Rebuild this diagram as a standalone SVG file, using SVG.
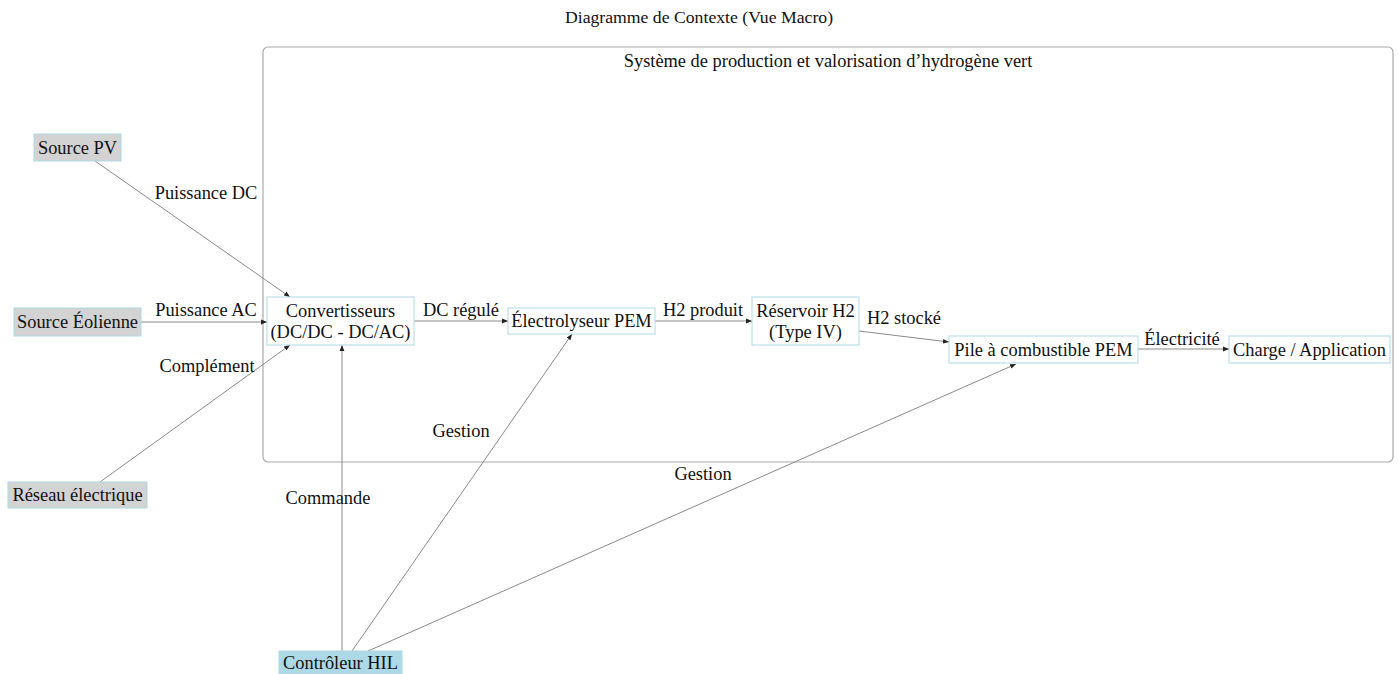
<svg xmlns="http://www.w3.org/2000/svg" width="1398" height="674" viewBox="0 0 1398 674">
<style>
text{font-family:"Liberation Serif","Times New Roman",serif;font-size:18.4px;fill:#111;text-anchor:middle;dominant-baseline:central}
.ext{fill:#d3d3d3;stroke:#add8e6;stroke-width:1}
.int{fill:#fff;stroke:#add8e6;stroke-width:1}
.hil{fill:#add8e6;stroke:#add8e6;stroke-width:1}
.e{stroke:#8a8a8a;stroke-width:1;fill:none;marker-end:url(#ah)}
</style>
<defs>
<marker id="ah" viewBox="0 0 10 10" refX="10" refY="5" markerWidth="6" markerHeight="6" orient="auto" markerUnits="userSpaceOnUse">
<path d="M0,1 L10,5 L0,9 z" fill="#222"/>
</marker>
</defs>
<rect width="1398" height="674" fill="#fff"/>
<text x="699" y="17" style="font-size:17.7px">Diagramme de Contexte (Vue Macro)</text>
<g id="cluster">
<rect x="263" y="47" width="1130" height="415" rx="5" fill="none" stroke="#aaa" stroke-width="1.2"/>
<text x="828" y="61">Système de production et valorisation d’hydrogène vert</text>
</g>
<g id="connectors">
<line class="e" x1="95" y1="161" x2="290" y2="297"/>
<text x="206" y="193">Puissance DC</text>
<line class="e" x1="141" y1="322" x2="267" y2="322"/>
<text x="206" y="310">Puissance AC</text>
<line class="e" x1="100" y1="482" x2="290" y2="345"/>
<text x="207" y="366">Complément</text>
<line class="e" x1="414" y1="321" x2="508" y2="321"/>
<text x="461" y="310">DC régulé</text>
<line class="e" x1="655" y1="321" x2="752" y2="321"/>
<text x="703" y="310">H2 produit</text>
<line class="e" x1="859" y1="331" x2="949" y2="342"/>
<text x="904" y="318">H2 stocké</text>
<line class="e" x1="1138" y1="349" x2="1229" y2="349"/>
<text x="1182" y="339">Électricité</text>
<line class="e" x1="342" y1="651" x2="342" y2="345"/>
<text x="328" y="498">Commande</text>
<line class="e" x1="352" y1="651" x2="572" y2="334"/>
<text x="461" y="431">Gestion</text>
<line class="e" x1="368" y1="651" x2="1016" y2="364"/>
<text x="703" y="474">Gestion</text>
</g>
<g id="source-pv"><rect class="ext" x="34" y="134" width="87" height="27"/><text x="77.5" y="147.5">Source PV</text></g>
<g id="source-eolienne"><rect class="ext" x="14" y="308" width="127" height="28"/><text x="77.5" y="322">Source Éolienne</text></g>
<g id="reseau"><rect class="ext" x="8" y="482" width="139" height="26"/><text x="77.5" y="495">Réseau électrique</text></g>
<g id="hil"><rect class="hil" x="279" y="651" width="123" height="23"/><text x="340.5" y="663">Contrôleur HIL</text></g>
<g id="convertisseurs"><rect class="int" x="267" y="297" width="147" height="48"/><text x="340.5" y="311">Convertisseurs</text><text x="340.5" y="332">(DC/DC - DC/AC)</text></g>
<g id="electrolyseur"><rect class="int" x="508" y="308" width="147" height="26"/><text x="581.5" y="321">Électrolyseur PEM</text></g>
<g id="reservoir"><rect class="int" x="752" y="297" width="107" height="48"/><text x="805.5" y="311">Réservoir H2</text><text x="805.5" y="332">(Type IV)</text></g>
<g id="pile"><rect class="int" x="949" y="336" width="189" height="27"/><text x="1043.5" y="349.5">Pile à combustible PEM</text></g>
<g id="charge"><rect class="int" x="1229" y="336" width="161" height="27"/><text x="1309.5" y="349.5">Charge / Application</text></g>
</svg>
